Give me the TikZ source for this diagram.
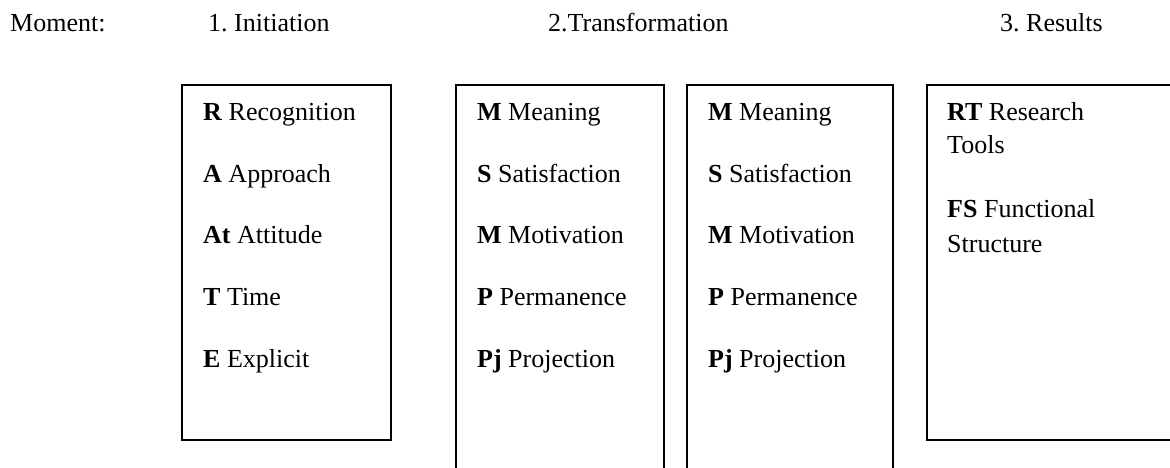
\documentclass[tikz,border=0pt]{standalone}
\usepackage{fontspec}
\setmainfont{Liberation Serif}
\frenchspacing
\begin{document}
\begin{tikzpicture}[x=1pt,y=-1pt,
  txt/.style={anchor=base west, inner sep=0pt, font=\fontsize{26}{33}\selectfont},
  frame/.style={line width=1.6pt, line join=miter}]
\useasboundingbox (0,0) rectangle (1170,467);
% header
\node[txt] (moment) at (10,31) {Moment:};
\node[txt] (h1) at (208,31) {1.\ Initiation};
\node[txt] (h2) at (548,31) {2.Transformation};
\node[txt] (h3) at (1000,31) {3.\ Results};
% frames
\draw[frame] (182,85) rectangle (391,440);
\draw[frame] (456,475) -- (456,85) -- (664,85) -- (664,475);
\draw[frame] (687,475) -- (687,85) -- (893,85) -- (893,475);
\draw[frame] (927,85) rectangle (1180,440);
% box 1
\node[txt] (r) at (203,120) {\textbf{R} Recognition};
\node[txt] (a) at (203,182) {\textbf{A} Approach};
\node[txt] (at) at (203,243) {\textbf{At} Attitude};
\node[txt] (t) at (203,305) {\textbf{T} Time};
\node[txt] (e) at (203,367) {\textbf{E} Explicit};
% box 2
\node[txt] (m1) at (477,120) {\textbf{M} Meaning};
\node[txt] (s1) at (477,182) {\textbf{S} Satisfaction};
\node[txt] (mo1) at (477,243) {\textbf{M} Motivation};
\node[txt] (p1) at (477,305) {\textbf{P} Permanence};
\node[txt] (pj1) at (477,367) {\textbf{Pj} Projection};
% box 3
\node[txt] (m2) at (708,120) {\textbf{M} Meaning};
\node[txt] (s2) at (708,182) {\textbf{S} Satisfaction};
\node[txt] (mo2) at (708,243) {\textbf{M} Motivation};
\node[txt] (p2) at (708,305) {\textbf{P} Permanence};
\node[txt] (pj2) at (708,367) {\textbf{Pj} Projection};
% box 4
\node[txt] (rt) at (947,120) {\textbf{RT} Research};
\node[txt] (rt2) at (947,153) {Tools};
\node[txt] (fs) at (947,217) {\textbf{FS} Functional};
\node[txt] (fs2) at (947,252) {Structure};
\end{tikzpicture}
\end{document}
